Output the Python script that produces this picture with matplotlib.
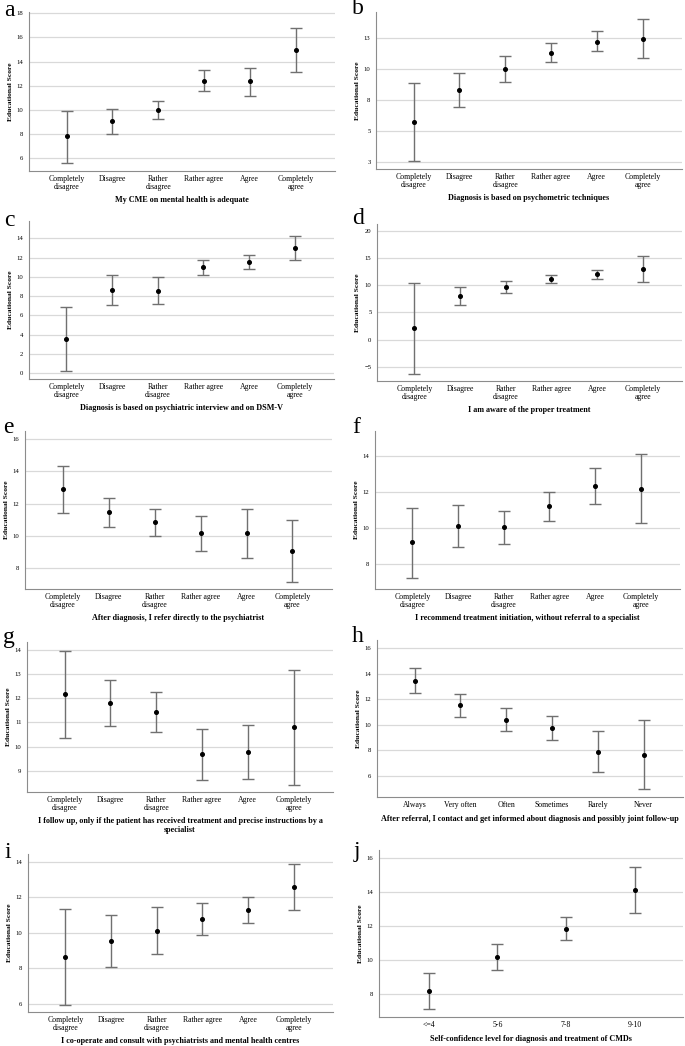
import numpy as np
import matplotlib
matplotlib.use('Agg')
import matplotlib.pyplot as plt

plt.rcParams['font.family'] = ['Liberation Serif', 'DejaVu Serif']

agree6 = ['Completely\ndisagree', 'Disagree', 'Rather\ndisagree', 'Rather agree', 'Agree', 'Completely\nagree']
freq6 = ['Always', 'Very often', 'Often', 'Sometimes', 'Rarely', 'Never']
conf4 = ['<=4', '5-6', '7-8', '9-10']

# means and 95% CI bounds
a_mean = [7.8, 9.05, 10.02, 12.43, 12.35, 14.98]
a_lo = [5.64, 8.02, 9.27, 11.54, 11.15, 13.15]
a_hi = [9.93, 10.07, 10.74, 13.26, 13.48, 16.81]

b_mean = [5.7, 8.26, 9.97, 11.27, 12.18, 12.39]
b_lo = [2.55, 6.9, 8.95, 10.5, 11.38, 10.82]
b_hi = [8.82, 9.62, 10.98, 12.05, 13.0, 13.97]

c_mean = [3.55, 8.66, 8.59, 11.0, 11.55, 12.97]
c_lo = [0.24, 7.1, 7.17, 10.21, 10.86, 11.72]
c_hi = [6.86, 10.24, 10.03, 11.72, 12.24, 14.2]

d_mean = [2.1, 8.02, 9.67, 11.14, 11.99, 13.03]
d_lo = [-6.2, 6.37, 8.51, 10.46, 11.14, 10.59]
d_hi = [10.4, 9.6, 10.77, 11.81, 12.73, 15.42]

e_mean = [12.91, 11.46, 10.85, 10.19, 10.16, 9.09]
e_lo = [11.44, 10.58, 10.02, 9.07, 8.62, 7.18]
e_hi = [14.33, 12.33, 11.67, 11.26, 11.69, 10.99]

f_mean = [9.2, 10.13, 10.03, 11.21, 12.32, 12.19]
f_lo = [7.24, 8.95, 9.08, 10.37, 11.32, 10.26]
f_hi = [11.13, 11.3, 10.95, 12.0, 13.33, 14.13]

g_mean = [12.16, 11.82, 11.44, 9.69, 9.77, 10.81]
g_lo = [10.37, 10.86, 10.62, 8.63, 8.65, 8.42]
g_hi = [13.94, 12.77, 12.27, 10.74, 10.88, 13.19]

h_mean = [13.45, 11.53, 10.39, 9.74, 7.9, 7.66]
h_lo = [12.52, 10.62, 9.48, 8.83, 6.29, 4.96]
h_hi = [14.42, 12.39, 11.3, 10.65, 9.51, 10.34]

i_mean = [8.65, 9.54, 10.1, 10.76, 11.27, 12.57]
i_lo = [5.94, 8.05, 8.78, 9.88, 10.52, 11.27]
i_hi = [11.36, 11.02, 11.44, 11.65, 12.0, 13.85]

j_mean = [8.2, 10.17, 11.84, 14.13]
j_lo = [7.13, 9.4, 11.19, 12.75]
j_hi = [9.22, 10.96, 12.51, 15.51]

a_ticks = [6, 8, 10, 12, 14, 16, 18]
b_ticks = [2.5, 5, 7.5, 10, 12.5]
b_ticklabels = ['3', '5', '8', '10', '13']
c_ticks = [0, 2, 4, 6, 8, 10, 12, 14]
d_ticks = [-5, 0, 5, 10, 15, 20]
e_ticks = [8, 10, 12, 14, 16]
f_ticks = [8, 10, 12, 14]
g_ticks = [9, 10, 11, 12, 13, 14]
h_ticks = [6, 8, 10, 12, 14, 16]
i_ticks = [6, 8, 10, 12, 14]
j_ticks = [8, 10, 12, 14, 16]

titles = {
    'a': 'My CME on mental health is adequate',
    'b': 'Diagnosis is based on psychometric techniques',
    'c': 'Diagnosis is based on psychiatric interview and on DSM-V',
    'd': 'I am aware of the proper treatment',
    'e': 'After diagnosis, I refer directly to the psychiatrist',
    'f': 'I recommend treatment initiation, without referral to a specialist',
    'g': 'I follow up, only if the patient has received treatment and precise instructions by a\nspecialist',
    'h': 'After referral, I contact and get informed about diagnosis and possibly joint follow-up',
    'i': 'I co-operate and consult with psychiatrists and mental health centres',
    'j': 'Self-confidence level for diagnosis and treatment of CMDs',
}

W, H = 685, 1046
fig = plt.figure(figsize=(W / 100, H / 100), dpi=100)


def make_ax(l, r, t, b):
    return fig.add_axes([l / W, 1 - b / H, (r - l) / W, (b - t) / H])


def panel(box, letter, letter_xy, cats, mean, lo, hi, ticks, ylim, xlim, ticklabels=None):
    ax = make_ax(*box)
    x = np.arange(len(cats))
    mean = np.array(mean)
    err = [mean - np.array(lo), np.array(hi) - mean]
    ax.errorbar(x, mean, yerr=err, fmt='o', color='black', ms=2.6,
                ecolor='#707070', elinewidth=1.0, capsize=4, capthick=1.0, zorder=3)
    ax.set_xlim(*xlim)
    ax.set_ylim(*ylim)
    ax.set_yticks(ticks)
    if ticklabels is not None:
        ax.set_yticklabels(ticklabels)
    ax.set_xticks(x)
    ax.set_xticklabels(cats, fontsize=5.6, linespacing=0.95)
    ax.tick_params(axis='y', labelsize=4.8, length=0, pad=4)
    ax.tick_params(axis='x', length=0, pad=3)
    ax.yaxis.grid(True, color='#d9d9d9', lw=0.9)
    ax.set_axisbelow(True)
    for s in ['top', 'right']:
        ax.spines[s].set_visible(False)
    for s in ['left', 'bottom']:
        ax.spines[s].set_color('#8c8c8c')
        ax.spines[s].set_linewidth(0.8)
    ax.set_ylabel('Educational Score', fontsize=5.4, fontweight='bold', labelpad=3)
    ax.set_xlabel(titles[letter], fontsize=5.9, fontweight='bold', labelpad=4, linespacing=1.1)
    fig.text(letter_xy[0] / W, 1 - letter_xy[1] / H, letter, fontsize=17,
             ha='center', va='center', family=['Liberation Serif'])
    return ax


x6 = (-0.82, 5.86)
panel((29, 335, 12, 171), 'a', (9, 11), agree6, a_mean, a_lo, a_hi, a_ticks, (4.94, 18.1), x6)
panel((376, 682, 12, 169), 'b', (358, 9), agree6, b_mean, b_lo, b_hi, b_ticks, (1.94, 14.55), x6, b_ticklabels)
panel((29, 334, 221, 379), 'c', (9, 220), agree6, c_mean, c_lo, c_hi, c_ticks, (-0.59, 15.8), x6)
panel((377, 682, 224, 381), 'd', (358, 218), agree6, d_mean, d_lo, d_hi, d_ticks, (-7.57, 21.2), x6)
panel((25, 332, 431, 589), 'e', (8, 428), agree6, e_mean, e_lo, e_hi, e_ticks, (6.72, 16.5), x6)
panel((375, 680, 431, 589), 'f', (356, 428), agree6, f_mean, f_lo, f_hi, f_ticks, (6.6, 15.4), x6)
panel((27, 333, 642, 792), 'g', (9, 637), agree6, g_mean, g_lo, g_hi, g_ticks, (8.12, 14.33), x6)
panel((377, 683, 640, 797), 'h', (358, 636), freq6, h_mean, h_lo, h_hi, h_ticks, (4.36, 16.62), x6)
panel((28, 333, 854, 1012), 'i', (8, 852), agree6, i_mean, i_lo, i_hi, i_ticks, (5.53, 14.43), x6)
panel((379, 683, 850, 1017), 'j', (357, 852), conf4, j_mean, j_lo, j_hi, j_ticks, (6.64, 16.49), (-0.72, 3.7))

fig.savefig('out.png', dpi=100, facecolor='white')
